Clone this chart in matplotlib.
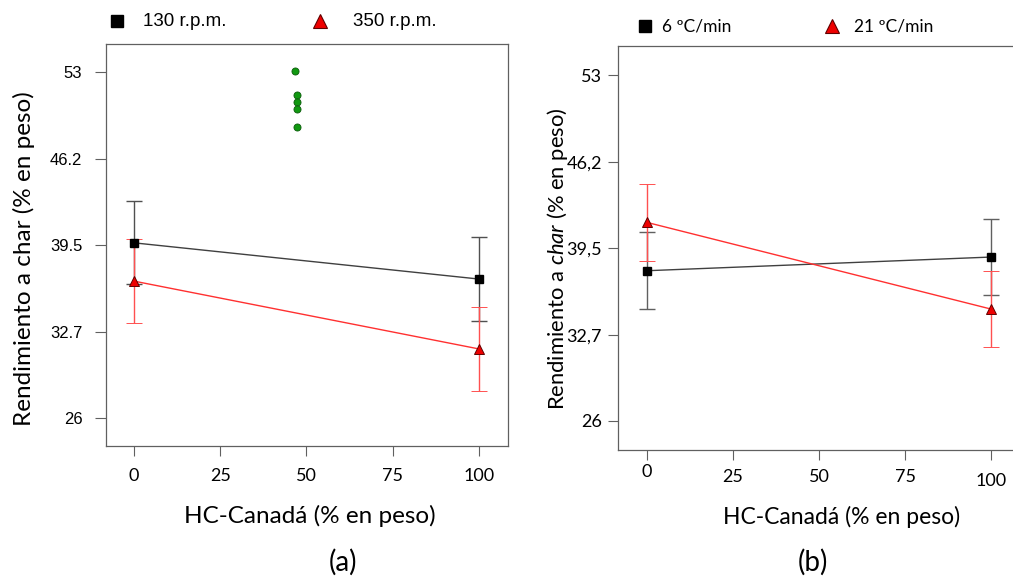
import matplotlib.pyplot as plt

plt.rcParams['mathtext.fontset'] = 'custom'
plt.rcParams['mathtext.it'] = 'Lato:italic'
plt.rcParams['mathtext.rm'] = 'Lato'

# panel (a): velocidad de agitación
x_pts = [0, 100]
y_130 = [39.67, 36.84]
y_350 = [36.68, 31.38]
err_a = [3.25, 3.25]
x_green = [46.7, 47.2, 47.2, 47.2, 47.2]
y_green = [53.1, 51.23, 50.68, 50.14, 48.68]

# panel (b): velocidad de calentamiento
y_6 = [37.72, 38.79]
y_21 = [41.5, 34.72]
err_b = [3.0, 3.0]

yticks = [26, 32.7, 39.5, 46.2, 53]
yticks_a = ['26', '32.7', '39.5', '46.2', '53']
yticks_b = ['26', '32,7', '39,5', '46,2', '53']
xticks = [0, 25, 50, 75, 100]

calib = 'Lato'
arial = 'Liberation Sans'
spine_c = '#606060'

fig = plt.figure(figsize=(10.13, 5.76), dpi=100)

# ---- (a)
ax1 = fig.add_axes([0.1046, 0.2257, 0.3969, 0.6979])
ax1.errorbar(x_pts, y_130, yerr=err_a, color='#404040', ecolor='#505050',
             elinewidth=1, capsize=6, lw=1, marker='s', ms=5.5,
             mfc='black', mec='black', zorder=3)
ax1.errorbar(x_pts, y_350, yerr=err_a, color='#ff3030', ecolor='#ff5050',
             elinewidth=1, capsize=6, lw=1, marker='^', ms=7,
             mfc='#ee0000', mec='#600000', mew=0.7, zorder=3)
ax1.scatter(x_green, y_green, s=26, c='#119911', edgecolors='#0a5a0a',
            linewidths=0.6, zorder=4)
ax1.set_xlim(-8.1, 108.4)
ax1.set_ylim(23.8, 55.2)
ax1.set_yticks(yticks)
ax1.set_yticklabels(yticks_a, fontfamily=arial, fontsize=12)
ax1.set_xticks(xticks)
ax1.set_xticklabels([str(v) for v in xticks], fontfamily=calib, fontsize=13)
ax1.tick_params(axis='y', length=8, width=0.8, color=spine_c, pad=9)
ax1.tick_params(axis='x', length=7.5, width=0.8, color=spine_c, pad=8)
for s in ax1.spines.values():
    s.set_color(spine_c)
    s.set_linewidth(0.9)
ax1.set_xlabel('HC-Canadá (% en peso)', fontfamily=calib, fontsize=17.5,
               va='center')
ax1.xaxis.set_label_coords(0.507, -0.174)
ax1.set_ylabel('Rendimiento a char (% en peso)', fontfamily=calib,
               fontsize=17.5, va='center')
ax1.yaxis.set_label_coords(-0.204, 0.465)

fig.text(143 / 1013, 1 - 21 / 576, '130 r.p.m.', fontsize=13.5,
         fontfamily=arial, va='center')
fig.text(353 / 1013, 1 - 21 / 576, '350 r.p.m.', fontsize=13.5,
         fontfamily=arial, va='center')
fig.text(343 / 1013, 1 - 562 / 576, '(a)', fontsize=20, fontfamily=calib,
         ha='center', va='center')

# ---- (b)
ax2 = fig.add_axes([0.6101, 0.2188, 0.3954, 0.7014])
ax2.errorbar(x_pts, y_6, yerr=err_b, color='#404040', ecolor='#606060',
             elinewidth=1, capsize=6, lw=1, marker='s', ms=5.5,
             mfc='black', mec='black', zorder=3)
ax2.errorbar(x_pts, y_21, yerr=err_b, color='#ff3030', ecolor='#ff5050',
             elinewidth=1, capsize=6, lw=1, marker='^', ms=7,
             mfc='#ee0000', mec='#600000', mew=0.7, zorder=3)
ax2.set_xlim(-8.4, 108)
ax2.set_ylim(23.7, 55.3)
ax2.set_yticks(yticks)
ax2.set_yticklabels(yticks_b, fontfamily=calib, fontsize=13)
ax2.set_xticks(xticks)
ax2.set_xticklabels([str(v) for v in xticks], fontfamily=calib, fontsize=13)
ax2.tick_params(axis='y', length=7.2, width=0.8, color=spine_c, pad=4.3)
ax2.tick_params(axis='x', length=7.5, width=0.8, color=spine_c, pad=6)
# the x tick labels of (b) are not on one line in the original
for lab, dy in zip(ax2.get_xticklabels(), [0.0124, 0, 0, 0, -0.01]):
    lab.set_y(dy)
ax2.spines['right'].set_visible(False)
for s in ax2.spines.values():
    s.set_color(spine_c)
    s.set_linewidth(0.9)
ax2.set_xlabel('HC-Canadá (% en peso)', fontfamily=calib, fontsize=16.5,
               va='center')
ax2.xaxis.set_label_coords(0.557, -0.166)
ax2.set_ylabel('Rendimiento a $\\it{char}$ (% en peso)', fontfamily=calib,
               fontsize=15.8, va='center')
ax2.yaxis.set_label_coords(-0.152, 0.473)

fig.text(662 / 1013, 1 - 26 / 576, '6 ºC/min', fontsize=12.5,
         fontfamily=calib, va='center')
fig.text(854 / 1013, 1 - 26 / 576, '21 ºC/min', fontsize=12.5,
         fontfamily=calib, va='center')
fig.text(813 / 1013, 1 - 562 / 576, '(b)', fontsize=20, fontfamily=calib,
         ha='center', va='center')

# legend markers drawn in pixel coordinates of the figure
leg = fig.add_axes([0, 0, 1, 1], facecolor='none')
leg.set_xlim(0, 1013)
leg.set_ylim(576, 0)
leg.axis('off')
leg.plot([117], [21], marker='s', ms=9, color='black', ls='none')
leg.plot([320], [21], marker='^', ms=10, mfc='#ee0000', mec='#600000',
         mew=0.8, ls='none')
leg.plot([645], [26], marker='s', ms=9, color='black', ls='none')
leg.plot([832], [26], marker='^', ms=10, mfc='#ee0000', mec='#600000',
         mew=0.8, ls='none')

fig.savefig('out.png', dpi=100)
